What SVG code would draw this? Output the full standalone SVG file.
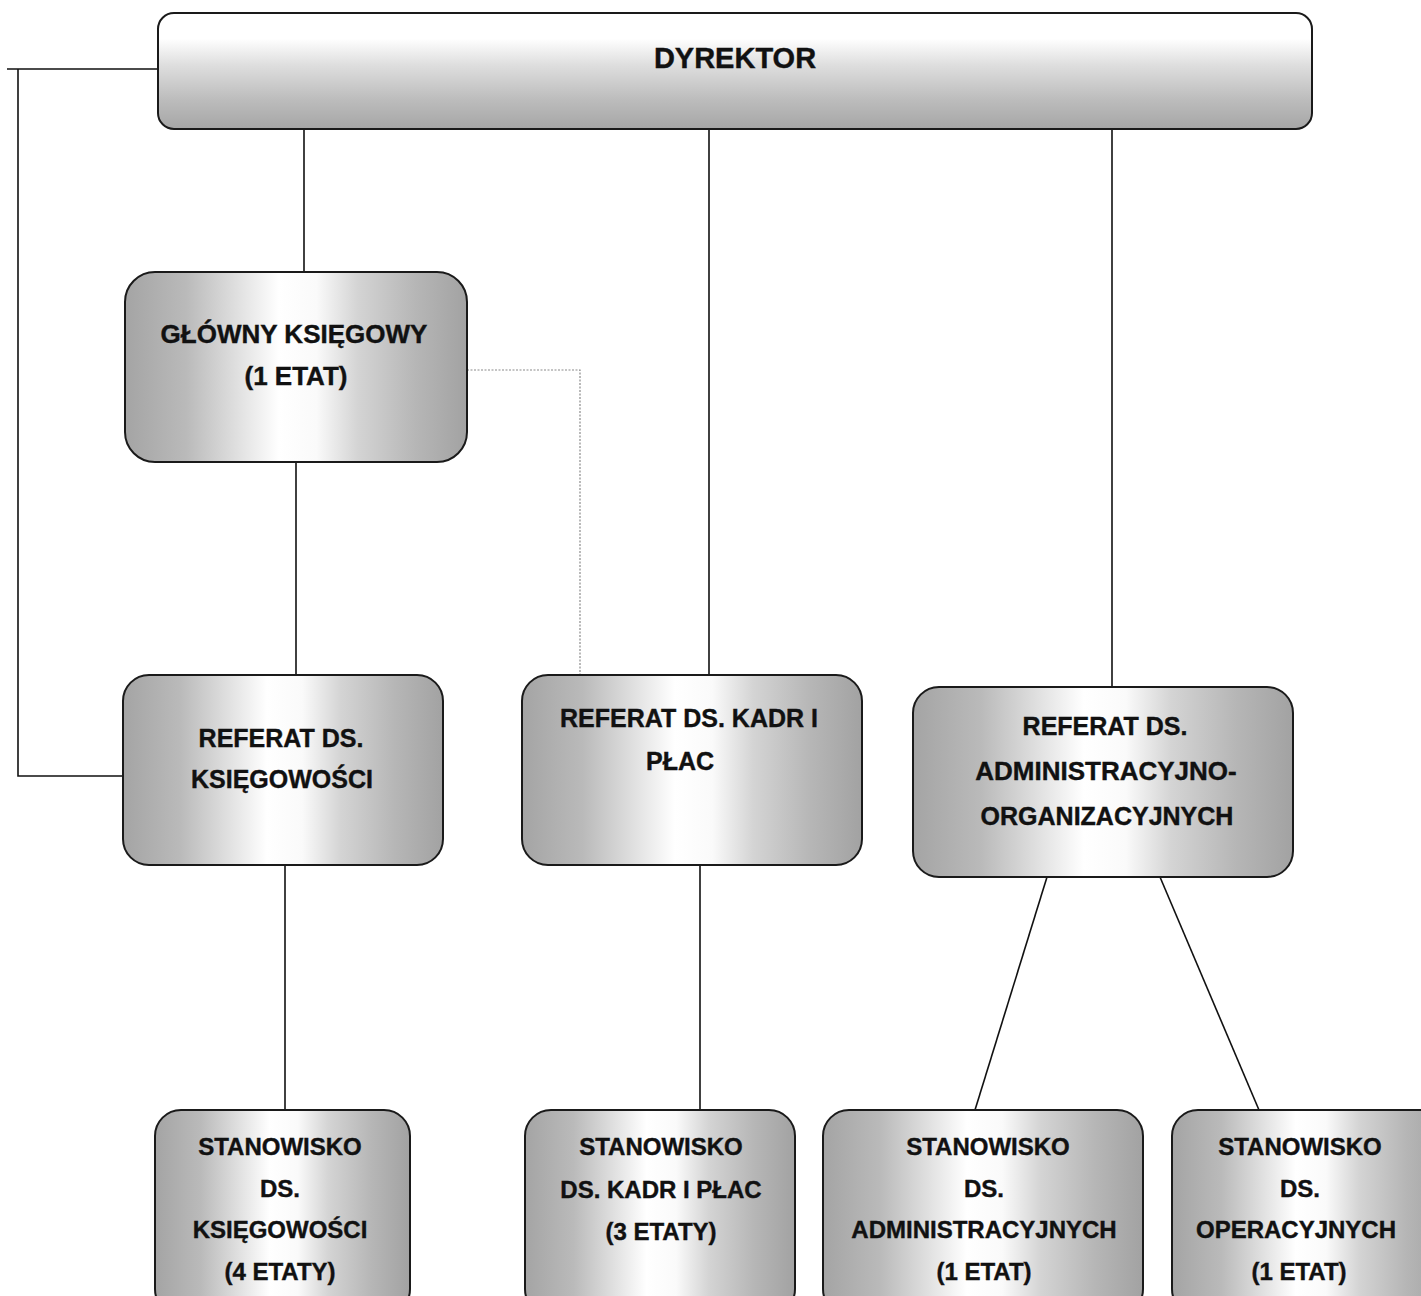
<svg xmlns="http://www.w3.org/2000/svg" width="1421" height="1296" viewBox="0 0 1421 1296">
<style>
.box{stroke:#1a1a1a;stroke-width:2;fill:url(#hg)}
.t{font-family:"Liberation Sans",Arial,sans-serif;font-weight:bold;fill:#111;stroke:#111;stroke-width:0.4;text-anchor:middle}
.ln{stroke:#111;stroke-width:1.6;fill:none}
.dot{stroke:#8a8a8a;stroke-width:1.2;fill:none;stroke-dasharray:2 1.5}
</style>
<defs>
<linearGradient id="hg" x1="0" y1="0" x2="1" y2="0">
<stop offset="0" stop-color="#a4a4a4"/>
<stop offset="0.18" stop-color="#bababa"/>
<stop offset="0.36" stop-color="#e8e8e8"/>
<stop offset="0.45" stop-color="#ffffff"/>
<stop offset="0.56" stop-color="#fafafa"/>
<stop offset="0.68" stop-color="#d4d4d4"/>
<stop offset="0.85" stop-color="#b6b6b6"/>
<stop offset="1" stop-color="#a2a2a2"/>
</linearGradient>
<linearGradient id="vg" x1="0" y1="0" x2="0" y2="1">
<stop offset="0" stop-color="#ffffff"/>
<stop offset="0.22" stop-color="#ffffff"/>
<stop offset="0.45" stop-color="#dedede"/>
<stop offset="0.75" stop-color="#bcbcbc"/>
<stop offset="1" stop-color="#a6a6a6"/>
</linearGradient>
</defs>

<g id="connectors">
<path class="ln" d="M158 69 H7 M18 69 V776 H123"/>
<path class="ln" d="M304 128 V272"/>
<path class="ln" d="M296 462 V675"/>
<path class="dot" d="M467 370 H580 V675"/>
<path class="ln" d="M709 128 V675"/>
<path class="ln" d="M1112 128 V687"/>
<path class="ln" d="M285 865 V1110"/>
<path class="ln" d="M700 865 V1110"/>
<path class="ln" d="M1047 877 L975 1110"/>
<path class="ln" d="M1160 877 L1259 1110"/>
</g>

<g id="dyrektor">
<rect x="158" y="13" width="1154" height="116" rx="16" stroke="#1a1a1a" stroke-width="2" fill="url(#vg)"/>
<text class="t" x="735" y="68" font-size="29">DYREKTOR</text>
</g>

<g id="glowny-ksiegowy">
<rect class="box" x="125" y="272" width="342" height="190" rx="30"/>
<text class="t" x="294" y="343" font-size="26">GŁÓWNY KSIĘGOWY</text>
<text class="t" x="296" y="385" font-size="26">(1 ETAT)</text>
</g>

<g id="referat-ksiegowosci">
<rect class="box" x="123" y="675" width="320" height="190" rx="26"/>
<text class="t" x="281" y="747" font-size="25">REFERAT DS.</text>
<text class="t" x="282" y="788" font-size="25">KSIĘGOWOŚCI</text>
</g>

<g id="referat-kadr">
<rect class="box" x="522" y="675" width="340" height="190" rx="26"/>
<text class="t" x="689" y="727" font-size="25">REFERAT DS. KADR  I</text>
<text class="t" x="680" y="770" font-size="25">PŁAC</text>
</g>

<g id="referat-admin">
<rect class="box" x="913" y="687" width="380" height="190" rx="26"/>
<text class="t" x="1105" y="735" font-size="25">REFERAT DS.</text>
<text class="t" x="1106" y="780" font-size="26">ADMINISTRACYJNO-</text>
<text class="t" x="1107" y="825" font-size="25">ORGANIZACYJNYCH</text>
</g>

<g id="stanowisko-ksiegowosci">
<rect class="box" x="155" y="1110" width="255" height="205" rx="26"/>
<text class="t" x="280" y="1155" font-size="24">STANOWISKO</text>
<text class="t" x="280" y="1197" font-size="24">DS.</text>
<text class="t" x="280" y="1238" font-size="24">KSIĘGOWOŚCI</text>
<text class="t" x="280" y="1280" font-size="24">(4 ETATY)</text>
</g>

<g id="stanowisko-kadr">
<rect class="box" x="525" y="1110" width="270" height="205" rx="26"/>
<text class="t" x="661" y="1155" font-size="24">STANOWISKO</text>
<text class="t" x="661" y="1198" font-size="24">DS. KADR I PŁAC</text>
<text class="t" x="661" y="1240" font-size="24">(3 ETATY)</text>
</g>

<g id="stanowisko-admin">
<rect class="box" x="823" y="1110" width="320" height="205" rx="26"/>
<text class="t" x="988" y="1155" font-size="24">STANOWISKO</text>
<text class="t" x="984" y="1197" font-size="24">DS.</text>
<text class="t" x="984" y="1238" font-size="24">ADMINISTRACYJNYCH</text>
<text class="t" x="984" y="1280" font-size="24">(1 ETAT)</text>
</g>

<g id="stanowisko-operacyjnych">
<rect class="box" x="1172" y="1110" width="275" height="205" rx="26"/>
<text class="t" x="1300" y="1155" font-size="24">STANOWISKO</text>
<text class="t" x="1300" y="1197" font-size="24">DS.</text>
<text class="t" x="1296" y="1238" font-size="24">OPERACYJNYCH</text>
<text class="t" x="1299" y="1280" font-size="24">(1 ETAT)</text>
</g>
</svg>
